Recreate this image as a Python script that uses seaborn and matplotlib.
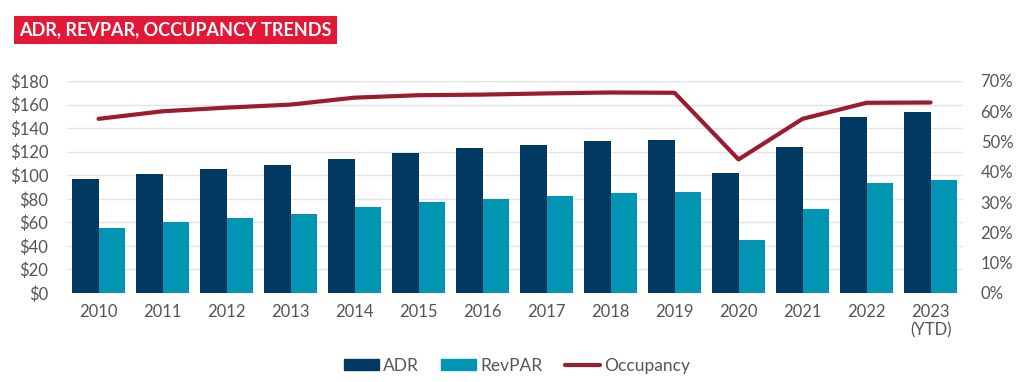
import numpy as np
import pandas as pd
import matplotlib
matplotlib.use("Agg")
import matplotlib.pyplot as plt
import seaborn as sns
from matplotlib.patches import Patch
from matplotlib.lines import Line2D

years = ["2010", "2011", "2012", "2013", "2014", "2015", "2016",
         "2017", "2018", "2019", "2020", "2021", "2022", "2023\n(YTD)"]
adr = [97, 101, 105, 109, 114, 119, 123, 126, 129, 130, 102, 124, 149, 154]
revpar = [55, 60, 64, 67, 73, 77, 80, 82, 85, 86, 45, 71, 93, 96]
occupancy = [57.5, 60.0, 61.2, 62.2, 64.5, 65.3, 65.5, 65.9, 66.2, 66.1, 44.1, 57.5, 62.8, 62.9]

navy = "#003a63"
teal = "#0095b3"
crimson = "#9b1b30"
grey = "#555555"

sns.set_theme(style="white")
plt.rcParams["font.family"] = ["Lato", "DejaVu Sans"]

df = pd.DataFrame({"Year": years, "ADR": adr, "RevPAR": revpar})
long = df.melt(id_vars="Year", var_name="Metric", value_name="Value")

fig = plt.figure(figsize=(10.24, 3.82), dpi=100)
ax = fig.add_axes([0.065, 0.233, 0.875, 0.555])

sns.barplot(data=long, x="Year", y="Value", hue="Metric", order=years,
            palette=[navy, teal], width=0.84, saturation=1, ax=ax, legend=False,
            linewidth=0, edgecolor="none")
ax.set_ylim(0, 180)
ax.set_yticks(range(0, 181, 20))
ax.set_yticklabels([f"${v}" for v in range(0, 181, 20)])
ax.yaxis.grid(True, color="#e3e3e3", linewidth=1)
ax.set_axisbelow(True)
ax.set_xlabel("")
ax.set_ylabel("")
ax.tick_params(axis="both", length=0, labelsize=12, colors=grey)
ax.tick_params(axis="y", pad=13)
ax.tick_params(axis="x", pad=8)
for s in ax.spines.values():
    s.set_visible(False)

ax2 = ax.twinx()
sns.lineplot(x=np.arange(len(years)), y=occupancy, color=crimson, linewidth=3,
             ax=ax2, legend=False)
ax2.set_ylim(0, 70)
ax2.set_yticks(range(0, 71, 10))
ax2.set_yticklabels([f"{v}%" for v in range(0, 71, 10)])
ax2.tick_params(axis="y", length=0, labelsize=12, colors=grey, pad=13)
ax2.set_ylabel("")
for s in ax2.spines.values():
    s.set_visible(False)
ax.set_xlim(-0.5, len(years) - 0.5)

handles = [Patch(color=navy, label="ADR"),
           Patch(color=teal, label="RevPAR"),
           Line2D([0], [0], color=crimson, linewidth=3, label="Occupancy")]
fig.legend(handles=handles, loc="center", bbox_to_anchor=(0.505, 0.042), ncol=3,
           frameon=False, fontsize=12.5, labelcolor=grey, handlelength=2.0,
           handleheight=0.6, handletextpad=0.25, columnspacing=1.3)

fig.text(0.019, 0.921, "ADR, REVPAR, OCCUPANCY TRENDS", color="white",
         fontsize=13, fontweight="bold", va="center", ha="left",
         bbox=dict(facecolor="#e31837", edgecolor="none", boxstyle="square,pad=0.3"))

fig.savefig("out.png", dpi=100)
